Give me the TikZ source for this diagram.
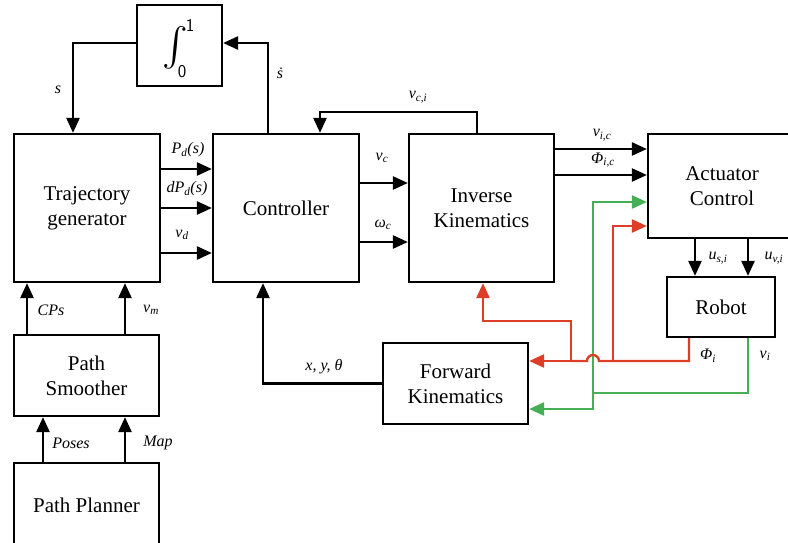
\documentclass[tikz,border=0pt]{standalone}
\usepackage{fontspec}
\setmainfont{Liberation Serif}
\usetikzlibrary{arrows.meta}
\definecolor{fbred}{RGB}{222,62,40}
\definecolor{fbgreen}{RGB}{70,175,85}
\newcommand\lab[2]{\textit{#1}\textsubscript{\textit{#2}}}
\begin{document}
\begin{tikzpicture}[x=1pt,y=-1pt,
  blk/.style={draw,line width=2.2pt,fill=white,align=center,inner sep=0pt,
    font=\fontsize{21}{25}\selectfont},
  arr/.style={line width=2.4pt,-{Triangle[length=15pt,width=13pt]}},
  ln/.style={line width=2.4pt},
  lbl/.style={font=\fontsize{16}{18}\selectfont\itshape,inner sep=0pt}]
\useasboundingbox (0,0) rectangle (788,543);
\clip (0,0) rectangle (788,543);
% blocks
\node[blk,minimum width=85pt,minimum height=81pt] (integ) at (179.5,45.5) {};
\node[inner sep=0pt,anchor=center] (intsign) at (175,47.5) {\resizebox{!}{31pt}{$\int$}};
\node[inner sep=0pt,font=\sffamily\fontsize{18}{20}\selectfont] (intup) at (190,25) {1};
\node[inner sep=0pt,font=\sffamily\fontsize{18}{20}\selectfont] (intlo) at (182,72) {0};
\node[blk,minimum width=146pt,minimum height=148pt] (traj) at (87,208) {Trajectory\\generator};
\node[blk,minimum width=146pt,minimum height=148pt] (ctrl) at (286,208) {Controller};
\node[blk,minimum width=145pt,minimum height=148pt] (ik) at (481.5,208) {Inverse\\Kinematics};
\node[blk,minimum width=160pt,minimum height=104pt] (act) at (728,186) {};
\node[font=\fontsize{21}{25}\selectfont,align=center] (acttxt) at (722,186) {Actuator\\Control};
\node[blk,minimum width=108pt,minimum height=60pt] (robot) at (721,307) {Robot};
\node[blk,minimum width=145pt,minimum height=81pt] (fk) at (455.5,383.5) {Forward\\Kinematics};
\node[blk,minimum width=145pt,minimum height=81pt] (smooth) at (86.5,375.5) {Path\\Smoother};
\node[blk,minimum width=145pt,minimum height=84pt] (planner) at (86.5,505) {Path Planner};
% integrator loop
\draw[arr] ([yshift=2.5pt]integ.west) -| ([xshift=-14pt]traj.north);
\draw[arr] ([xshift=-18pt]ctrl.north) |- ([yshift=2.5pt]integ.east);
\node[lbl] (ls) at (58,90) {s};
\node[lbl] (lsd) at (280,73) {\.{s}};
% traj -> ctrl
\draw[arr] ([yshift=39pt]traj.east) -- ([yshift=39pt]ctrl.west);
\draw[arr] (traj.east) -- (ctrl.west);
\draw[arr] ([yshift=-45pt]traj.east) -- ([yshift=-45pt]ctrl.west);
\node[lbl] (lpd) at (188,150) {\lab{P}{d}\textit{(s)}};
\node[lbl] (ldpd) at (187,189) {\textit{dP}\textsubscript{\textit{d}}\textit{(s)}};
\node[lbl] (lvd) at (182,235) {\lab{v}{d}};
% ctrl -> ik
\draw[arr] ([yshift=25pt]ctrl.east) -- ([yshift=25pt]ik.west);
\draw[arr] ([yshift=-34pt]ctrl.east) -- ([yshift=-34pt]ik.west);
\node[lbl] (lvc) at (382,158) {\lab{v}{c}};
\node[lbl] (lwc) at (383,225) {\lab{ω}{c}};
% vc,i feedback
\draw[arr] ([xshift=-4.5pt]ik.north) -- ++(0,-21) -| ([xshift=34pt]ctrl.north);
\node[lbl] (lvci) at (418,97) {\lab{v}{c,i}};
% ik -> act
\draw[arr] ([yshift=59pt]ik.east) -- ([yshift=59pt]ik.east -| act.west);
\draw[arr] ([yshift=33pt]ik.east) -- ([yshift=33pt]ik.east -| act.west);
\node[lbl] (lvic) at (602,135) {\lab{v}{i,c}};
\node[lbl] (lphic) at (603,160) {\lab{Φ}{i,c}};
% act -> robot
\draw[arr] ([xshift=-26pt]robot.north |- act.south) -- ([xshift=-26pt]robot.north);
\draw[arr] ([xshift=27pt]robot.north |- act.south) -- ([xshift=27pt]robot.north);
\node[lbl] (lus) at (718,258) {\lab{u}{s,i}};
\node[lbl] (luv) at (774,258) {\lab{u}{v,i}};
% feedback coordinates
\coordinate (rc) at (689,361);
\coordinate (rb1) at (571,361);
\coordinate (rb1t) at (571,321);
\coordinate (rb2) at (613,361);
\coordinate (gb) at (593,393);
\coordinate (gbt) at (593,202);
\coordinate (gbb) at (593,409);
% green lines
\draw[ln,fbgreen] ([xshift=27pt]robot.south) |- (gb);
\draw[arr,fbgreen] (gb) -- (gbt) -- (gbt -| act.west);
\draw[arr,fbgreen] (gb) -- (gbb) -- (gbb -| fk.east);
% red lines
\draw[ln,fbred] ([xshift=-32pt]robot.south) -- (rc) -- (599,361) arc[start angle=0,end angle=180,radius=6pt] -- (rb1);
\draw[arr,fbred] (rb1) -- ([yshift=22.5pt]fk.east);
\draw[arr,fbred] (rb1) -- (rb1t) -| ([xshift=1.5pt]ik.south);
\draw[arr,fbred] (rb2) |- ([yshift=-40pt]act.west);
\node[lbl] (lphi) at (708,356) {\lab{Φ}{i}};
\node[lbl] (lvi) at (765,356) {\lab{v}{i}};
% fk -> ctrl
\draw[arr] (fk.west) -| ([xshift=-23pt]ctrl.south);
\node[lbl] (lxy) at (324,367) {x, y, θ};
% smoother -> traj
\draw[arr] ([xshift=-59.5pt]smooth.north) -- ([xshift=-59.5pt]smooth.north |- traj.south);
\draw[arr] ([xshift=38.5pt]smooth.north) -- ([xshift=38.5pt]smooth.north |- traj.south);
\node[lbl] (lcps) at (51,310) {CPs};
\node[lbl] (lvm) at (151,310) {\lab{v}{m}};
% planner -> smoother
\draw[arr] ([xshift=-43.5pt]planner.north) -- ([xshift=-43.5pt]planner.north |- smooth.south);
\draw[arr] ([xshift=38.5pt]planner.north) -- ([xshift=38.5pt]planner.north |- smooth.south);
\node[lbl] (lposes) at (71,443) {Poses};
\node[lbl] (lmap) at (158,443) {Map};
\end{tikzpicture}
\end{document}
